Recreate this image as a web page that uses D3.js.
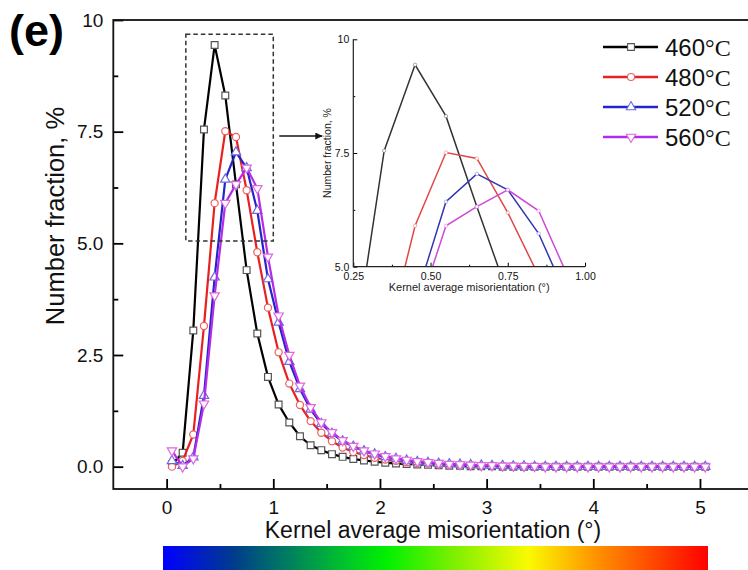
<!DOCTYPE html>
<html>
<head>
<meta charset="utf-8">
<script src="https://cdn.jsdelivr.net/npm/d3@7"></script>
<style>
body { margin: 0; background: #fff; }
svg { display: block; font-family: "Liberation Sans", Arial, sans-serif; }
</style>
</head>
<body>
<svg id="chart" width="748" height="570"></svg>
<script>
// bin centres of the KAM histogram (deg)
const kam = [0.05, 0.15, 0.25, 0.35, 0.45, 0.55, 0.65, 0.75, 0.85, 0.95,
    1.05, 1.15, 1.25, 1.35, 1.45, 1.55, 1.65, 1.75, 1.85, 1.95,
    2.05, 2.15, 2.25, 2.35, 2.45, 2.55, 2.65, 2.75, 2.85, 2.95,
    3.05, 3.15, 3.25, 3.35, 3.45, 3.55, 3.65, 3.75, 3.85, 3.95,
    4.05, 4.15, 4.25, 4.35, 4.45, 4.55, 4.65, 4.75, 4.85, 4.95, 5.05];

// number fraction, %
const frac460 = [0.05, 0.31, 3.05, 7.55, 9.44, 8.31, 6.32, 4.40, 2.98, 2.01,
    1.39, 0.99, 0.68, 0.48, 0.37, 0.28, 0.22, 0.17, 0.14, 0.11,
    0.09, 0.07, 0.06, 0.05, 0.04, 0.03, 0.02, 0.02, 0.01, 0.01,
    0.01, 0, 0, 0, 0, 0, 0, 0, 0, 0,
    0, 0, 0, 0, 0, 0, 0, 0, 0, 0, 0];
const frac480 = [0.00, 0.13, 0.72, 3.15, 5.90, 7.51, 7.38, 6.19, 4.80, 3.56,
    2.56, 1.86, 1.38, 1.02, 0.76, 0.57, 0.43, 0.33, 0.26, 0.20,
    0.16, 0.13, 0.10, 0.08, 0.07, 0.05, 0.04, 0.04, 0.03, 0.02,
    0.02, 0.01, 0.01, 0, 0, 0, 0, 0, 0, 0,
    0, 0, 0, 0, 0, 0, 0, 0, 0, 0, 0];
const frac520 = [0.13, 0.02, 0.21, 1.59, 4.24, 6.43, 7.04, 6.69, 5.73, 4.20,
    3.23, 2.35, 1.74, 1.28, 0.96, 0.74, 0.57, 0.45, 0.35, 0.28,
    0.22, 0.18, 0.14, 0.11, 0.09, 0.07, 0.06, 0.05, 0.04, 0.03,
    0.02, 0.02, 0.01, 0.01, 0, 0, 0, 0, 0, 0,
    0, 0, 0, 0, 0, 0, 0, 0, 0, 0, 0];
const frac560 = [0.36, 0.00, 0.18, 1.41, 3.83, 5.90, 6.32, 6.69, 6.23, 4.70,
    3.38, 2.50, 1.81, 1.33, 0.99, 0.77, 0.59, 0.46, 0.36, 0.29,
    0.23, 0.18, 0.15, 0.12, 0.10, 0.08, 0.06, 0.05, 0.04, 0.03,
    0.03, 0.02, 0.02, 0.01, 0.01, 0, 0, 0, 0, 0,
    0, 0, 0, 0, 0, 0, 0, 0, 0, 0, 0];

const temps = ["460", "480", "520", "560"];
const xTicks = [0, 1, 2, 3, 4, 5];
const xMinor = [0.5, 1.5, 2.5, 3.5, 4.5];
const yTicks = [0, 2.5, 5, 7.5, 10];
const yTickLabels = ["0.0", "2.5", "5.0", "7.5", "10"];
const yMinor = [1.25, 3.75, 6.25, 8.75];
const insetXTicks = [0.25, 0.5, 0.75, 1.0];
const insetXMinor = [0.375, 0.625, 0.875];
const insetYTicks = [5, 7.5, 10];
const insetYMinor = [6.25, 8.75];
const zoomX = [0.18, 1.0];
const zoomY = [5.05, 9.68];
const rainbow = ["#0000ff", "#003c8c", "#007864", "#00c828", "#00f000", "#78f000", "#fafa00", "#ff9600", "#ff0000"];
const rainbowAt = [0, 0.13, 0.22, 0.34, 0.41, 0.53, 0.67, 0.79, 1];

const series = [
    {name: temps[0], values: frac460, line: "#000000", mark: "#555555", inLine: "#333333", sym: d3.symbolSquare, size: 46, rot: 0},
    {name: temps[1], values: frac480, line: "#e82020", mark: "#e86060", inLine: "#e04848", sym: d3.symbolCircle, size: 40, rot: 0},
    {name: temps[2], values: frac520, line: "#2424c8", mark: "#6a6ae0", inLine: "#3434b4", sym: d3.symbolTriangle, size: 38, rot: 0},
    {name: temps[3], values: frac560, line: "#b42ce8", mark: "#e066e0", inLine: "#d048d8", sym: d3.symbolTriangle, size: 38, rot: 180}
];

const svg = d3.select("#chart");

const x = d3.scaleLinear().domain([-0.5, 5.5]).range([113.3, 753.3]);
const y = d3.scaleLinear().domain([-0.5, 10]).range([489, 20]);

/**
 * styles an axis group: black ticks, given font size
 */
function styleAxis(g, fontSize, width) {
    g.select(".domain").remove();
    g.selectAll("line").attr("stroke", "#000").attr("stroke-width", width);
    g.selectAll("text").attr("fill", "#111").attr("font-size", fontSize)
        .attr("font-family", "'Liberation Sans', Arial, sans-serif");
}

// main axes
svg.append("g").attr("transform", "translate(0,489)")
    .call(d3.axisBottom(x).tickValues(xTicks).tickSizeInner(-10).tickSizeOuter(0).tickPadding(12).tickFormat(d3.format("d")))
    .call(g => styleAxis(g, 19, 1.8));
svg.append("g").attr("transform", "translate(0,489)")
    .call(d3.axisBottom(x).tickValues(xMinor).tickSizeInner(-5).tickSizeOuter(0).tickFormat(""))
    .call(g => styleAxis(g, 19, 1.8));
svg.append("g").attr("transform", "translate(113.3,0)")
    .call(d3.axisLeft(y).tickValues(yTicks).tickSizeInner(-10).tickSizeOuter(0).tickPadding(10)
        .tickFormat((d, i) => yTickLabels[i]))
    .call(g => styleAxis(g, 19, 1.8));
svg.append("g").attr("transform", "translate(113.3,0)")
    .call(d3.axisLeft(y).tickValues(yMinor).tickSizeInner(-5).tickSizeOuter(0).tickFormat(""))
    .call(g => styleAxis(g, 19, 1.8));

// frame
svg.append("rect")
    .attr("x", x.range()[0]).attr("y", y.range()[1])
    .attr("width", x.range()[1] - x.range()[0])
    .attr("height", y.range()[0] - y.range()[1])
    .attr("fill", "none").attr("stroke", "#111").attr("stroke-width", 1.8);

svg.append("text")
    .attr("x", 9).attr("y", 46)
    .attr("font-size", 45).attr("font-weight", "bold")
    .attr("font-family", "'Liberation Sans', Arial, sans-serif")
    .text("(e)");

svg.append("text")
    .attr("transform", "translate(64,216) rotate(-90)")
    .attr("text-anchor", "middle").attr("font-size", 25.5).attr("fill", "#111")
    .text("Number fraction, %");

svg.append("text")
    .attr("x", 433).attr("y", 538)
    .attr("text-anchor", "middle").attr("font-size", 23).attr("fill", "#111")
    .text("Kernel average misorientation (°)");

// series
const line = d3.line().x(d => x(d[0])).y(d => y(d[1]));
series.forEach(s => {
    const pts = kam.map((k, i) => [k, s.values[i]]);
    const g = svg.append("g");
    g.append("path").datum(pts)
        .attr("d", line).attr("fill", "none")
        .attr("stroke", s.line).attr("stroke-width", 2.2).attr("stroke-linejoin", "round");
    g.selectAll("path.mk").data(pts).enter().append("path")
        .attr("class", "mk")
        .attr("d", d3.symbol().type(s.sym).size(s.size))
        .attr("transform", d => `translate(${x(d[0])},${y(d[1])}) rotate(${s.rot})`)
        .attr("fill", "#fff").attr("stroke", s.mark).attr("stroke-width", 1.2);
});

// dashed zoom box + arrow
svg.append("rect")
    .attr("x", x(zoomX[0])).attr("y", y(zoomY[1]))
    .attr("width", x(zoomX[1]) - x(zoomX[0]))
    .attr("height", y(zoomY[0]) - y(zoomY[1]))
    .attr("fill", "none").attr("stroke", "#333").attr("stroke-width", 1.5)
    .attr("stroke-dasharray", "4.5,3");

// inset
const ix = d3.scaleLinear().domain([0.25, 1.0]).range([353.3, 585]);
const iy = d3.scaleLinear().domain([5, 10]).range([266.7, 39.3]);

const arrowY = 136;
svg.append("defs").append("marker")
    .attr("id", "head").attr("viewBox", "0 0 10 10")
    .attr("refX", 10).attr("refY", 5)
    .attr("markerWidth", 7).attr("markerHeight", 7)
    .attr("markerUnits", "userSpaceOnUse")
    .attr("orient", "auto")
    .append("path").attr("d", "M0,0L10,5L0,10z").attr("fill", "#111");
svg.append("line")
    .attr("x1", x(zoomX[1]) + 6).attr("y1", arrowY)
    .attr("x2", ix.range()[0] - 31).attr("y2", arrowY)
    .attr("stroke", "#111").attr("stroke-width", 1.6)
    .attr("marker-end", "url(#head)");

svg.select("defs").append("clipPath").attr("id", "insetClip")
    .append("rect")
    .attr("x", ix.range()[0]).attr("y", iy.range()[1])
    .attr("width", ix.range()[1] - ix.range()[0])
    .attr("height", iy.range()[0] - iy.range()[1]);

const inset = svg.append("g");
const iline = d3.line().x(d => ix(d[0])).y(d => iy(d[1]));
const insetPlot = inset.append("g").attr("clip-path", "url(#insetClip)");
series.forEach(s => {
    const pts = kam.map((k, i) => [k, s.values[i]]).filter(d => d[0] < 1.3);
    insetPlot.append("path").datum(pts)
        .attr("d", iline).attr("fill", "none")
        .attr("stroke", s.inLine).attr("stroke-width", 1.5);
    insetPlot.selectAll(null).data(pts.filter(d => d[1] >= 5)).enter().append("circle")
        .attr("cx", d => ix(d[0])).attr("cy", d => iy(d[1])).attr("r", 1.7)
        .attr("fill", "#fff").attr("stroke", s.mark).attr("stroke-opacity", 0.6).attr("stroke-width", 0.8);
});

inset.append("g").attr("transform", `translate(0,${iy.range()[0]})`)
    .call(d3.axisBottom(ix).tickValues(insetXTicks).tickSizeInner(-4).tickSizeOuter(0).tickPadding(6).tickFormat(d3.format(".2f")))
    .call(g => styleAxis(g, 10.5, 1));
inset.append("g").attr("transform", `translate(0,${iy.range()[0]})`)
    .call(d3.axisBottom(ix).tickValues(insetXMinor).tickSizeInner(-2).tickSizeOuter(0).tickFormat(""))
    .call(g => styleAxis(g, 10.5, 1));
inset.append("g").attr("transform", `translate(${ix.range()[0]},0)`)
    .call(d3.axisLeft(iy).tickValues(insetYTicks).tickSizeInner(-4).tickSizeOuter(0).tickPadding(4)
        .tickFormat(d => d === 10 ? "10" : d3.format(".1f")(d)))
    .call(g => styleAxis(g, 10.5, 1));
inset.append("g").attr("transform", `translate(${ix.range()[0]},0)`)
    .call(d3.axisLeft(iy).tickValues(insetYMinor).tickSizeInner(-2).tickSizeOuter(0).tickFormat(""))
    .call(g => styleAxis(g, 10.5, 1));
inset.append("path")
    .attr("d", `M${ix.range()[0]},${iy.range()[1]}V${iy.range()[0]}H${ix.range()[1]}`)
    .attr("fill", "none").attr("stroke", "#222").attr("stroke-width", 1.2);

inset.append("text")
    .attr("x", (ix.range()[0] + ix.range()[1]) / 2).attr("y", 291)
    .attr("text-anchor", "middle").attr("font-size", 11).attr("fill", "#222")
    .text("Kernel average misorientation (°)");
inset.append("text")
    .attr("transform", "translate(331,153) rotate(-90)")
    .attr("text-anchor", "middle").attr("font-size", 10.5).attr("fill", "#222")
    .text("Number fraction, %");

// legend
const legend = svg.append("g").attr("transform", "translate(603,47)");
series.forEach((s, i) => {
    const row = legend.append("g").attr("transform", `translate(0,${i * 30})`);
    row.append("line").attr("x1", 0).attr("x2", 55).attr("y1", 0).attr("y2", 0)
        .attr("stroke", s.line).attr("stroke-width", 2.4);
    row.append("path")
        .attr("d", d3.symbol().type(s.sym).size(s.size))
        .attr("transform", `translate(28,0) rotate(${s.rot})`)
        .attr("fill", "#fff").attr("stroke", s.mark).attr("stroke-width", 1.1);
    const t = row.append("text").attr("x", 62).attr("y", 9).attr("font-size", 24).attr("fill", "#111");
    t.append("tspan").text(s.name);
    t.append("tspan").attr("font-family", "'Liberation Serif', 'Times New Roman', serif").text("°C");
});

// colour bar
const grad = svg.select("defs").append("linearGradient").attr("id", "rainbow");
grad.selectAll("stop").data(rainbow).enter().append("stop")
    .attr("offset", (d, i) => rainbowAt[i]).attr("stop-color", d => d);
svg.append("rect")
    .attr("x", 163).attr("y", 546).attr("width", 545).attr("height", 26)
    .attr("fill", "url(#rainbow)");
</script>
</body>
</html>
